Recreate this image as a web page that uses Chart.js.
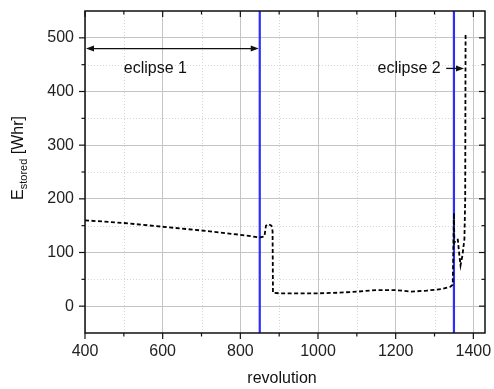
<!DOCTYPE html>
<html>
<head>
<meta charset="utf-8">
<script src="https://cdn.jsdelivr.net/npm/chart.js@4.4.0/dist/chart.umd.min.js"></script>
<style>
  html, body { margin: 0; padding: 0; background: #fff; }
</style>
</head>
<body>
<canvas id="chart" width="494" height="389"></canvas>
<script>
// stored energy vs revolution
const revolution = [400, 500, 600, 700, 800, 850, 862, 866, 872, 880, 883, 884, 900, 1000, 1050, 1100, 1150, 1200, 1240, 1280, 1320, 1340, 1347, 1350, 1351, 1355, 1360, 1364, 1367, 1372, 1377, 1379, 1380];
const energy     = [160, 155, 148, 141, 133, 128, 130, 150, 153, 150, 140, 25, 24, 24, 25, 27, 30, 30, 27, 29, 32, 36, 40, 174, 118, 124, 124, 95, 76, 95, 125, 200, 510];

const eclipseEdges = [850, 1350];

const xTicks = [400, 600, 800, 1000, 1200, 1400];
const xMinor = [500, 700, 900, 1100, 1300];
const yTicks = [0, 100, 200, 300, 400, 500];
const yMinor = [50, 150, 250, 350, 450];

const xRange = [400, 1430];
const yRange = [-50, 550];

const FONT = "'Liberation Sans', Arial, sans-serif";

function arrowHead(ctx, x, y, dir) {
  ctx.beginPath();
  ctx.moveTo(x, y);
  ctx.lineTo(x - dir * 8, y - 3);
  ctx.lineTo(x - dir * 8, y + 3);
  ctx.closePath();
  ctx.fill();
}

function noPad(s) {
  s.paddingTop = 0; s.paddingBottom = 0;
  s.paddingLeft = 0; s.paddingRight = 0;
}

const decor = {
  id: 'decor',
  beforeDatasetsDraw(chart) {
    const { ctx, chartArea: a, scales: { x, y } } = chart;
    ctx.save();
    ctx.strokeStyle = '#d6d6d6';
    ctx.lineWidth = 1;
    ctx.setLineDash([1, 2]);
    xMinor.forEach(v => {
      const p = Math.round(x.getPixelForValue(v)) + 0.5;
      ctx.beginPath(); ctx.moveTo(p, a.top); ctx.lineTo(p, a.bottom); ctx.stroke();
    });
    yMinor.forEach(v => {
      const p = Math.round(y.getPixelForValue(v)) + 0.5;
      ctx.beginPath(); ctx.moveTo(a.left, p); ctx.lineTo(a.right, p); ctx.stroke();
    });
    ctx.restore();
  },
  afterDraw(chart) {
    const { ctx, chartArea: a, scales: { x, y } } = chart;
    ctx.save();
    // frame
    ctx.strokeStyle = '#111';
    ctx.lineWidth = 1.5;
    ctx.strokeRect(a.left, a.top, a.right - a.left, a.bottom - a.top);
    // ticks: outward on bottom/left, inward on top/right
    ctx.lineWidth = 1.2;
    const tx = (v, len) => {
      const p = x.getPixelForValue(v);
      ctx.beginPath(); ctx.moveTo(p, a.bottom); ctx.lineTo(p, a.bottom + len); ctx.stroke();
      ctx.beginPath(); ctx.moveTo(p, a.top); ctx.lineTo(p, a.top + len); ctx.stroke();
    };
    const ty = (v, len) => {
      const p = y.getPixelForValue(v);
      ctx.beginPath(); ctx.moveTo(a.left, p); ctx.lineTo(a.left - len, p); ctx.stroke();
      ctx.beginPath(); ctx.moveTo(a.right, p); ctx.lineTo(a.right - len, p); ctx.stroke();
    };
    xTicks.forEach(v => tx(v, 6));
    xMinor.forEach(v => tx(v, 3.5));
    yTicks.forEach(v => ty(v, 6));
    yMinor.forEach(v => ty(v, 3.5));

    // annotations
    ctx.fillStyle = '#111';
    ctx.strokeStyle = '#111';
    ctx.lineWidth = 1.3;
    const y1 = y.getPixelForValue(480);
    const xa = x.getPixelForValue(400), xb = x.getPixelForValue(eclipseEdges[0]);
    ctx.beginPath(); ctx.moveTo(xa + 4, y1); ctx.lineTo(xb - 4, y1); ctx.stroke();
    arrowHead(ctx, xa + 1, y1, -1);
    arrowHead(ctx, xb - 1, y1, 1);

    const y2 = y.getPixelForValue(443);
    const xc = x.getPixelForValue(1330), xd = x.getPixelForValue(1376);
    ctx.beginPath(); ctx.moveTo(xc, y2); ctx.lineTo(xd - 4, y2); ctx.stroke();
    arrowHead(ctx, xd, y2, 1);

    ctx.font = '16px ' + FONT;
    ctx.textBaseline = 'middle';
    ctx.textAlign = 'left';
    ctx.fillText('eclipse 1', x.getPixelForValue(500), y.getPixelForValue(442));
    ctx.textAlign = 'right';
    ctx.fillText('eclipse 2', x.getPixelForValue(1316), y.getPixelForValue(442));

    // axis titles
    ctx.textAlign = 'center';
    ctx.fillText('revolution', (a.left + a.right) / 2 - 3, 379);

    ctx.translate(19, 158);
    ctx.rotate(-Math.PI / 2);
    ctx.textAlign = 'left';
    const big = '16px ' + FONT, small = '11px ' + FONT;
    ctx.font = big; const wE = ctx.measureText('E').width;
    ctx.font = small; const wS = ctx.measureText('stored').width;
    ctx.font = big; const wU = ctx.measureText(' [Whr]').width;
    let px = -(wE + wS + wU) / 2;
    ctx.font = big; ctx.fillText('E', px, 0); px += wE;
    ctx.font = small; ctx.fillText('stored', px, 5); px += wS;
    ctx.font = big; ctx.fillText(' [Whr]', px, 0);
    ctx.restore();
  }
};

const datasets = [{
  data: revolution.map((r, i) => ({ x: r, y: energy[i] })),
  borderColor: '#000',
  borderWidth: 1.8,
  borderDash: [4, 2.5],
  pointRadius: 0,
  tension: 0,
  order: 0
}];
eclipseEdges.forEach(e => datasets.push({
  data: [{ x: e, y: yRange[0] }, { x: e, y: yRange[1] }],
  borderColor: 'rgb(45,45,255)',
  borderWidth: 2.2,
  pointRadius: 0,
  order: 1
}));

new Chart(document.getElementById('chart'), {
  type: 'line',
  data: { datasets },
  options: {
    responsive: false,
    animation: false,
    layout: { padding: { top: 11, right: 9, left: 0, bottom: 0 } },
    plugins: { legend: { display: false }, tooltip: { enabled: false } },
    scales: {
      x: {
        type: 'linear',
        min: xRange[0], max: xRange[1],
        afterBuildTicks: s => { s.ticks = xTicks.map(v => ({ value: v })); },
        afterFit: s => { s.height = 56; noPad(s); },
        grid: { color: '#c4c4c4', lineWidth: 1, drawTicks: false },
        border: { display: false },
        ticks: { padding: 9, color: '#222', font: { family: FONT, size: 16 }, maxRotation: 0, callback: v => String(v) }
      },
      y: {
        type: 'linear',
        min: yRange[0], max: yRange[1],
        afterBuildTicks: s => { s.ticks = yTicks.map(v => ({ value: v })); },
        afterFit: s => { s.width = 85; noPad(s); },
        grid: { color: '#c4c4c4', lineWidth: 1, drawTicks: false },
        border: { display: false },
        ticks: { padding: 11, color: '#222', font: { family: FONT, size: 16 }, callback: v => String(v) }
      }
    }
  },
  plugins: [decor]
});
</script>
</body>
</html>
